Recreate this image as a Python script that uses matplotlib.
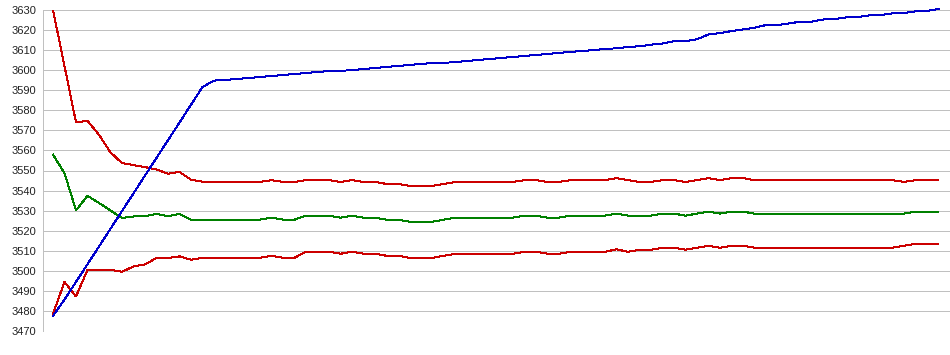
import numpy as np
from matplotlib import pyplot as plt

# valores (78 puntos)
blue = [3477.5, 3485.7, 3494.5, 3503.3, 3512.1, 3521.0, 3529.8, 3538.6, 3547.5, 3556.3,
        3565.1, 3573.9, 3582.8, 3591.6, 3594.8, 3595.2, 3595.6, 3596.1, 3596.6, 3597.1,
        3597.6, 3598.1, 3598.6, 3599.1, 3599.6, 3599.7, 3600.0, 3600.6, 3601.1, 3601.6,
        3602.1, 3602.6, 3603.1, 3603.6, 3603.7, 3604.0, 3604.6, 3605.1, 3605.6, 3606.1,
        3606.6, 3607.1, 3607.6, 3608.1, 3608.6, 3609.1, 3609.6, 3610.0, 3610.6, 3610.9,
        3611.6, 3611.9, 3612.7, 3613.3, 3614.5, 3614.5, 3615.4, 3617.8, 3618.5, 3619.5,
        3620.3, 3621.2, 3622.5, 3622.5, 3623.3, 3624.2, 3624.2, 3625.3, 3625.5, 3626.3,
        3626.5, 3627.3, 3627.5, 3628.3, 3628.5, 3629.3, 3629.5, 3630.5]

upper = [3630.0, 3602.0, 3574.0, 3574.7, 3567.8, 3559.0, 3553.7, 3552.7, 3551.7, 3550.5,
         3548.4, 3549.3, 3545.4, 3544.4, 3544.3, 3544.3, 3544.3, 3544.3, 3544.3, 3545.2,
         3544.3, 3544.3, 3545.2, 3545.2, 3545.2, 3544.3, 3545.2, 3544.3, 3544.3, 3543.3,
         3543.3, 3542.4, 3542.4, 3542.4, 3543.3, 3544.3, 3544.3, 3544.3, 3544.3, 3544.3,
         3544.3, 3545.2, 3545.2, 3544.3, 3544.3, 3545.2, 3545.2, 3545.2, 3545.2, 3546.2,
         3545.2, 3544.3, 3544.3, 3545.2, 3545.2, 3544.3, 3545.2, 3546.2, 3545.2, 3546.2,
         3546.2, 3545.2, 3545.2, 3545.2, 3545.2, 3545.2, 3545.2, 3545.2, 3545.2, 3545.2,
         3545.2, 3545.2, 3545.2, 3545.2, 3544.3, 3545.2, 3545.2, 3545.2]

middle = [3557.9, 3548.7, 3530.1, 3537.4, 3533.8, 3530.1, 3526.3, 3527.1, 3527.3, 3528.3,
          3527.3, 3528.3, 3525.5, 3525.5, 3525.5, 3525.5, 3525.5, 3525.5, 3525.5, 3526.5,
          3525.5, 3525.5, 3527.5, 3527.5, 3527.5, 3526.5, 3527.5, 3526.5, 3526.5, 3525.5,
          3525.5, 3524.5, 3524.5, 3524.5, 3525.5, 3526.5, 3526.5, 3526.5, 3526.5, 3526.5,
          3526.5, 3527.5, 3527.5, 3526.5, 3526.5, 3527.5, 3527.5, 3527.5, 3527.5, 3528.5,
          3527.5, 3527.5, 3527.5, 3528.5, 3528.5, 3527.5, 3528.5, 3529.5, 3528.5, 3529.5,
          3529.5, 3528.5, 3528.5, 3528.5, 3528.5, 3528.5, 3528.5, 3528.5, 3528.5, 3528.5,
          3528.5, 3528.5, 3528.5, 3528.5, 3528.5, 3529.5, 3529.5, 3529.5]

lower = [3478.6, 3494.4, 3487.2, 3500.5, 3500.5, 3500.5, 3499.5, 3502.2, 3503.2, 3506.4,
         3506.4, 3507.2, 3505.5, 3506.5, 3506.5, 3506.5, 3506.5, 3506.5, 3506.5, 3507.5,
         3506.5, 3506.5, 3509.5, 3509.5, 3509.5, 3508.5, 3509.5, 3508.5, 3508.5, 3507.5,
         3507.5, 3506.5, 3506.5, 3506.5, 3507.5, 3508.5, 3508.5, 3508.5, 3508.5, 3508.5,
         3508.5, 3509.5, 3509.5, 3508.5, 3508.5, 3509.5, 3509.5, 3509.5, 3509.5, 3510.7,
         3509.5, 3510.5, 3510.5, 3511.5, 3511.5, 3510.5, 3511.5, 3512.5, 3511.5, 3512.5,
         3512.5, 3511.5, 3511.5, 3511.5, 3511.5, 3511.5, 3511.5, 3511.5, 3511.5, 3511.5,
         3511.5, 3511.5, 3511.5, 3511.5, 3512.5, 3513.5, 3513.5, 3513.5]

y_ticks = list(range(3470, 3631, 10))

plt.rcParams['font.family'] = ['Liberation Sans', 'DejaVu Sans']

fig = plt.figure(figsize=(9.5, 3.55), dpi=100)
ax = fig.add_axes([43 / 950, 1 - 331 / 355, 1 - 43 / 950, 321 / 355])

x = np.arange(len(blue))
ax.plot(x, upper, color='#cc0000', lw=0.72, antialiased=False)
ax.plot(x, lower, color='#cc0000', lw=0.72, antialiased=False)
ax.plot(x, middle, color='#008000', lw=0.72, antialiased=False)
ax.plot(x, blue, color='#0000cc', lw=0.72, antialiased=False, clip_on=False)

ax.set_xlim(-0.87, 78)
ax.set_ylim(3470, 3630)
ax.set_yticks(y_ticks)
ax.set_xticks([])
ax.grid(axis='y', color='#c0c0c0', lw=0.72)
ax.set_axisbelow(True)
ax.tick_params(axis='y', length=0, pad=5, labelsize=8, labelcolor='#222222')
for s in ['top', 'right', 'bottom']:
    ax.spines[s].set_visible(False)
ax.spines['left'].set_color('#c0c0c0')
ax.spines['left'].set_linewidth(0.72)

fig.savefig('out.png', dpi=100)
